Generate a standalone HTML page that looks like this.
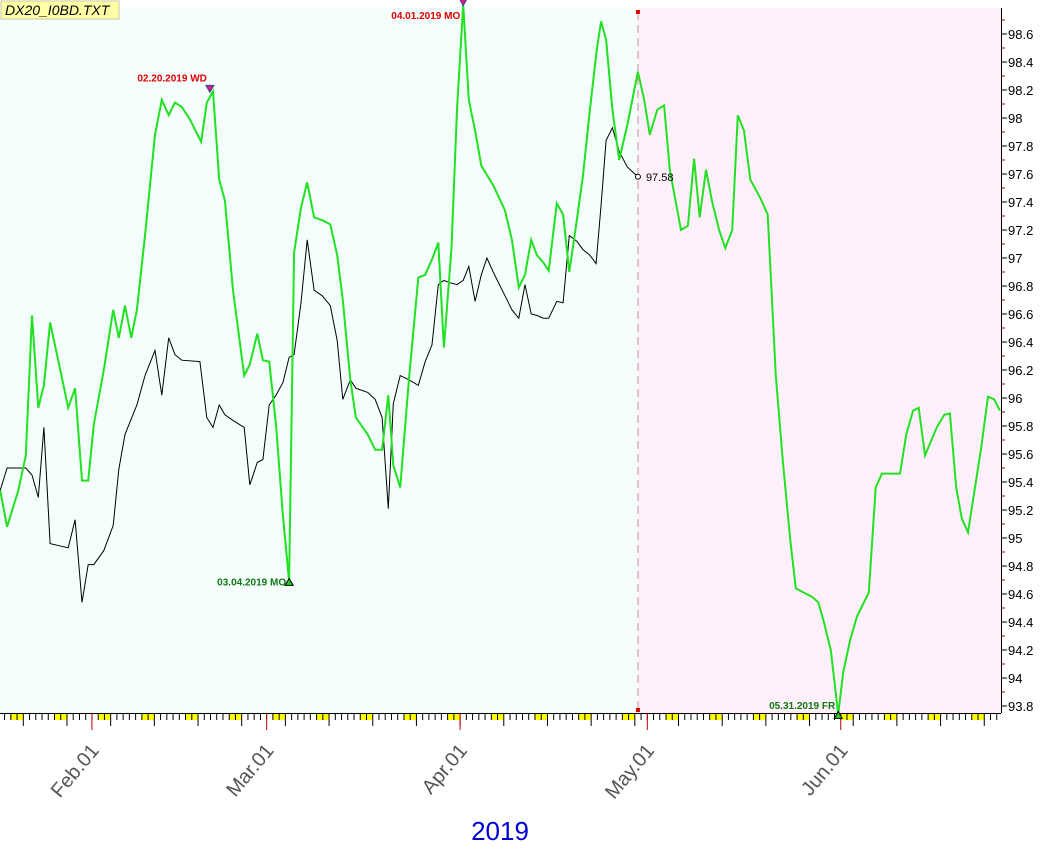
<!DOCTYPE html>
<html><head><meta charset="utf-8"><style>
body{margin:0;background:#fff;width:1063px;height:849px;overflow:hidden;font-family:"Liberation Sans",sans-serif}
</style></head><body>
<svg width="1063" height="849" xmlns="http://www.w3.org/2000/svg" font-family="Liberation Sans, sans-serif">
<g id="bg"></g><g id="ticks"></g><g id="series"></g><g id="ann"></g>
<rect x="1" y="1" width="118" height="18" fill="#ffffa8" stroke="#c8c8a0"/>
<text x="5" y="15" font-size="14" font-style="italic" fill="#000">DX20_I0BD.TXT</text>
<text x="500" y="840" font-size="26" fill="#0000d0" text-anchor="middle">2019</text>
</svg>
<script>
const greenDays=[16.3,17.4,19.2,20.4,21.4,22.4,23.3,24.3,25.6,27.2,28.3,29.4,30.4,31.3,32.9,34.4,35.3,36.3,37.3,38.2,39.5,41.1,42.2,43.3,44.3,45.4,46.7,48.5,49.4,50.4,51.4,52.3,53.6,55.4,56.3,57.5,58.4,59.4,60.5,61.6,62.6,63.4,64.5,65.5,66.6,67.9,69.2,70.3,71.2,72.4,73.3,75.2,76.4,77.5,78.5,79.3,80.4,81.8,83.3,84.4,85.5,86.5,87.4,88.6,89.5,90.5,91.4,92.4,93.4,95.3,97.2,98.3,99.4,100.4,101.4,102.3,103.3,104.2,105.5,106.5,107.5,108.7,109.7,110.8,111.9,112.6,113.4,114.4,115.5,116.8,118.5,119.5,120.4,121.6,122.7,123.6,125.4,126.5,127.5,128.4,129.4,130.4,131.5,132.5,133.6,134.5,135.5,136.5,138.1,139.3,140.6,141.7,142.9,143.8,145.1,146.4,147.4,148.3,149.4,150.6,151.4,152.5,153.6,154.6,155.5,156.6,157.6,158.6,160.5,161.5,162.6,163.5,164.5,166.4,167.6,168.5,169.5,170.4,171.4,172.4,173.5,174.6,175.6,176.5];
const greenVals=[95.34,95.08,95.34,95.59,96.59,95.93,96.09,96.54,96.27,95.93,96.07,95.41,95.41,95.81,96.20,96.63,96.43,96.66,96.43,96.63,97.16,97.88,98.13,98.02,98.11,98.08,97.99,97.83,98.11,98.19,97.56,97.41,96.77,96.16,96.24,96.46,96.27,96.26,95.81,95.16,94.69,97.04,97.36,97.54,97.29,97.27,97.24,97.02,96.70,96.13,95.86,95.74,95.63,95.63,96.02,95.52,95.36,96.13,96.86,96.88,96.99,97.11,96.36,97.06,98.06,98.81,98.13,97.91,97.66,97.52,97.34,97.13,96.79,96.88,97.13,97.02,96.97,96.91,97.39,97.31,96.90,97.27,97.59,98.06,98.49,98.69,98.56,98.06,97.70,97.95,98.33,98.13,97.88,98.06,98.09,97.63,97.20,97.23,97.71,97.29,97.63,97.40,97.20,97.07,97.20,98.02,97.91,97.56,97.43,97.31,96.16,95.56,94.99,94.64,94.61,94.58,94.54,94.40,94.20,93.74,94.04,94.27,94.44,94.53,94.61,95.36,95.46,95.46,95.46,95.74,95.91,95.93,95.59,95.79,95.88,95.89,95.36,95.14,95.04,95.33,95.64,96.01,95.99,95.91];
const blackDays=[16.3,17.4,20.4,21.4,22.4,23.3,24.3,27.2,28.3,29.4,30.4,31.3,32.9,34.4,35.3,36.3,38.2,39.5,41.1,42.2,43.3,44.3,45.4,48.3,49.4,50.4,51.4,52.3,53.6,55.4,56.3,57.5,58.4,59.4,60.5,61.6,62.6,63.4,64.5,65.5,66.6,67.9,69.2,70.3,71.2,72.4,73.3,75.2,76.4,77.5,78.5,79.3,80.4,81.8,83.3,84.4,85.5,86.5,87.4,88.6,89.5,90.5,91.4,92.4,93.4,94.3,95.3,96.3,97.2,98.3,99.4,100.4,101.4,102.3,103.3,104.2,105.5,106.5,107.5,108.7,109.7,110.8,111.8,112.6,113.4,114.4,115.5,116.8,118.5];
const blackVals=[95.34,95.50,95.50,95.45,95.29,95.79,94.96,94.93,95.13,94.54,94.81,94.81,94.91,95.09,95.49,95.74,95.95,96.16,96.34,96.02,96.43,96.31,96.27,96.26,95.86,95.79,95.95,95.88,95.84,95.79,95.38,95.54,95.56,95.95,96.02,96.11,96.29,96.31,96.68,97.13,96.77,96.73,96.66,96.41,95.99,96.13,96.07,96.04,95.99,95.86,95.21,95.96,96.16,96.13,96.09,96.26,96.38,96.81,96.84,96.82,96.81,96.84,96.94,96.69,96.88,97.00,96.90,96.81,96.73,96.63,96.57,96.81,96.60,96.59,96.57,96.57,96.69,96.68,97.16,97.12,97.06,97.02,96.96,97.38,97.84,97.93,97.76,97.65,97.58];
const yTicks=[93.8,94,94.2,94.4,94.6,94.8,95,95.2,95.4,95.6,95.8,96,96.2,96.4,96.6,96.8,97,97.2,97.4,97.6,97.8,98,98.2,98.4,98.6];
const yTickLabels=["93.8","94","94.2","94.4","94.6","94.8","95","95.2","95.4","95.6","95.8","96","96.2","96.4","96.6","96.8","97","97.2","97.4","97.6","97.8","98","98.2","98.4","98.6"];
const monthDays=[31,59,90,120,151];
const monthLabels=["Feb.01","Mar.01","Apr.01","May.01","Jun.01"];
const splitDay=118.5;
const annDays=[49.9,62.6,90.5,150.6];
const annVals=[98.19,94.69,98.81,93.74];
const annLabels=["02.20.2019 WD","03.04.2019 MO","04.01.2019 MO","05.31.2019 FR"];
const annHigh=[true,false,true,false];

const NS="http://www.w3.org/2000/svg";
const X=d=>-101.5+d*6.24, Y=v=>34+(98.6-v)*140;
const PR=1001, PT=8, PB=713;
function mk(p,t,a){const e=document.createElementNS(NS,t);for(const k in a)e.setAttribute(k,a[k]);p.appendChild(e);return e;}
const bg=document.getElementById('bg'),tk=document.getElementById('ticks'),sr=document.getElementById('series'),an=document.getElementById('ann');
let r=mk(bg,'rect',{x:0,y:PT,width:X(splitDay),height:PB-PT,fill:'#f4fffd'});


r=mk(bg,'rect',{x:X(splitDay),y:PT,width:PR-X(splitDay),height:PB-PT,fill:'#fff0fb'});


let l=mk(bg,'line',{x1:X(splitDay),x2:X(splitDay),y1:PT+4,y2:PB-4,stroke:'#d09090','stroke-dasharray':'8,5'});


mk(bg,'rect',{x:X(splitDay)-2,y:PT+2,width:4,height:4,fill:'#e00000'});
mk(bg,'rect',{x:X(splitDay)-2,y:PB-5,width:4,height:4,fill:'#e00000'});
const ax=mk(tk,'g',{});


mk(ax,'line',{x1:PR+.5,x2:PR+.5,y1:PT,y2:PB,stroke:'#000'});
yTicks.forEach((v,i)=>{const y=Y(v);
 mk(ax,'line',{x1:PR,x2:PR+6,y1:y,y2:y,stroke:'#000'});
 mk(ax,'line',{x1:PR,x2:PR+4,y1:y-14,y2:y-14,stroke:'#a00000'});
 const t=mk(ax,'text',{x:PR+7,y:y+5,'font-size':13,fill:'#000'});t.textContent=yTickLabels[i];
 
 });
const xa=mk(tk,'g',{});


mk(xa,'line',{x1:0,x2:PR,y1:PB+.5,y2:PB+.5,stroke:'#000'});
for(let d=17;d<=177;d++){const x=X(d);if(x>PR)break;
 const dow=(d+1)%7;
 if(dow===5){mk(xa,'rect',{x:x,y:PB+1,width:12,height:6,fill:'#ffff00'});}
 const long=dow===0;
 mk(xa,'line',{x1:x,x2:x,y1:PB,y2:PB+(long?13:7),stroke:'#000'});}
monthDays.forEach((d,i)=>{const x=X(d);
 mk(xa,'line',{x1:x,x2:x,y1:PB,y2:PB+17,stroke:'#c00000'});
 const t=mk(xa,'text',{x:x+8,y:PB+38,'font-size':20,fill:'#555','text-anchor':'end',transform:`rotate(-50 ${x+8} ${PB+38})`});
 t.textContent=monthLabels[i];
 
 });
function path(ds,vs){return ds.map((d,i)=>(i?'L':'M')+X(d).toFixed(1)+','+Y(vs[i]).toFixed(1)).join('');}
let p=mk(sr,'path',{d:path(blackDays,blackVals),fill:'none',stroke:'#000','stroke-width':1});


p=mk(sr,'path',{d:path(greenDays,greenVals),fill:'none',stroke:'#22e022','stroke-width':2});


const ld=blackDays[blackDays.length-1],lv=blackVals[blackVals.length-1];
mk(sr,'circle',{cx:X(ld),cy:Y(lv),r:2.5,fill:'#fff',stroke:'#000'});
let lt=mk(sr,'text',{x:X(ld)+8,y:Y(lv)+4,'font-size':11,fill:'#000'});lt.textContent=lv.toFixed(2);


annDays.forEach((d,i)=>{const x=X(d),y=Y(annVals[i]),hi=annHigh[i];
 const col=hi?'#e00000':'#117711';
 if(hi)mk(an,'path',{d:`M${x-4},${y-6}L${x+4},${y-6}L${x},${y+1}Z`,fill:'#d0207a',stroke:'#4040a0'});
 else mk(an,'path',{d:`M${x-4},${y+4}L${x+4},${y+4}L${x},${y-3}Z`,fill:'#22cc22',stroke:'#000'});
 let ty=hi?Math.max(y-10,19):y+4;
 if(!hi&&ty>PB-6)ty=PB-4;
 const t=mk(an,'text',{x:x-3,y:ty,'font-size':10,'font-weight':'bold',fill:col,'text-anchor':'end'});
 t.textContent=annLabels[i];
 
 });
</script>
</body></html>
